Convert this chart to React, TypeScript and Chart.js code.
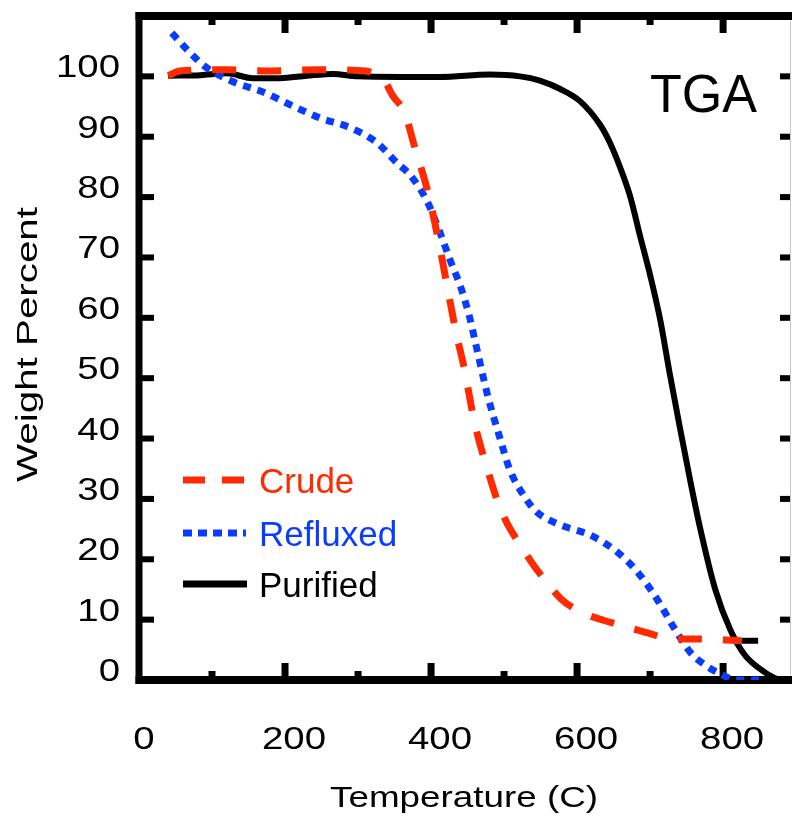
import { useEffect, useRef } from "react";
import { Chart, registerables } from "chart.js";

Chart.register(...registerables);

// ---------- data ----------
const purifiedT = [40, 84, 120, 156, 193, 230, 266, 299, 357, 412, 481, 522, 549, 577, 604, 632, 645, 659, 673, 686, 700, 714, 727, 741, 755, 769, 789, 810, 830, 851, 871, 880];
const purifiedW = [100.1, 100.2, 100.5, 99.7, 99.7, 100.1, 100.4, 100.0, 99.9, 99.9, 100.3, 100.0, 99.3, 97.9, 95.9, 91.9, 89.0, 84.9, 80.0, 73.7, 67.1, 59.6, 50.7, 41.7, 33.0, 24.9, 15.1, 8.3, 4.1, 1.8, 0.3, 0];

const crudeT = [40, 56, 119, 182, 248, 310, 323, 337, 347, 364, 378, 396, 410, 422, 434, 445, 460, 477, 492, 504, 522, 540, 559, 579, 608, 636, 668, 697, 730, 762, 825];
const crudeW = [100.1, 100.9, 101.1, 100.9, 101.1, 100.9, 100.4, 99.1, 96.9, 93.9, 88.1, 80.7, 72.9, 65.3, 57.7, 51.9, 42.4, 35.0, 29.3, 26.0, 22.4, 19.1, 16.1, 13.3, 11.1, 9.9, 8.8, 7.8, 6.8, 6.8, 6.5];

const crudeTailT = [825, 848];
const crudeTailW = [6.5, 6.5];

const refluxedT = [45, 66, 93, 129, 170, 207, 248, 289, 326, 353, 371, 395, 412, 426, 442, 453, 463, 478, 495, 508, 529, 545, 577, 618, 655, 684, 710, 732, 755, 775, 792, 819, 855];
const refluxedW = [107.2, 104.4, 101.4, 99.1, 97.4, 95.3, 93.1, 91.5, 89.0, 85.7, 83.7, 79.2, 74.2, 69.6, 64.6, 60.0, 54.7, 46.9, 39.8, 34.8, 30.2, 27.8, 25.7, 24.0, 21.2, 17.7, 13.3, 8.8, 4.6, 2.5, 1.3, 0, 0];

const xTickLabels = [0, 200, 400, 600, 800];
const xTickMarks = [100, 200, 300, 400, 500, 600, 700, 800];
const yTickLabels = [0, 10, 20, 30, 40, 50, 60, 70, 80, 90, 100];

const seriesNames = ["Crude", "Refluxed", "Purified"];
const xTitle = "Temperature (C)";
const yTitle = "Weight Percent";
const panelTitle = "TGA";

// ---------- style ----------
const RED = "#ff2a00";
const BLUE = "#0a3cff";
const BLACK = "#000000";
const FONT = '"Liberation Sans", Arial, Helvetica, sans-serif';

const pts = (t: number[], w: number[]) => t.map((v, i) => ({ x: v, y: w[i] }));

function drawFit(
  ctx: CanvasRenderingContext2D,
  text: string,
  x: number,
  y: number,
  size: number,
  sx: number,
  align: CanvasTextAlign,
  color: string,
  rotate = false
) {
  ctx.save();
  ctx.font = `${size}px ${FONT}`;
  ctx.fillStyle = color;
  ctx.textAlign = align;
  ctx.textBaseline = "alphabetic";
  ctx.translate(x, y);
  if (rotate) ctx.rotate(-Math.PI / 2);
  ctx.scale(sx, 1);
  ctx.fillText(text, 0, 0);
  ctx.restore();
}

function fitScale(ctx: CanvasRenderingContext2D, text: string, size: number, target: number) {
  ctx.save();
  ctx.font = `${size}px ${FONT}`;
  const w = ctx.measureText(text).width;
  ctx.restore();
  return target / w;
}

const decor = {
  id: "decor",
  beforeDatasetsDraw(chart: any) {
    const { ctx, chartArea: a, scales } = chart;
    const xs = scales.x;
    const ys = scales.y;
    ctx.save();
    ctx.fillStyle = BLACK;
    // frame: left, top, bottom
    ctx.fillRect(a.left - 3.5, a.top - 4, 7, a.bottom - a.top + 8);
    ctx.fillRect(a.left - 3.5, a.top - 4, chart.width, 8);
    ctx.fillRect(a.left - 3.5, a.bottom - 4, chart.width, 8);
    // x ticks (bottom & top, inward)
    for (const v of xTickMarks) {
      const px = xs.getPixelForValue(v);
      const len = v % 200 === 0 ? 17 : 9;
      ctx.fillRect(px - 3.5, a.bottom - len, 7, len);
      ctx.fillRect(px - 3.5, a.top, 7, len);
    }
    // y ticks (left & right, inward)
    for (const v of yTickLabels) {
      if (v === 0) continue;
      const py = ys.getPixelForValue(v);
      ctx.fillRect(a.left, py - 3, 15, 6);
      ctx.fillRect(a.right - 11, py - 3, 11, 6);
    }
    // thin right edge
    ctx.fillStyle = "#c8c8c8";
    ctx.fillRect(a.right - 1, a.top + 4, 1, a.bottom - a.top - 8);
    ctx.restore();
  },
  afterDraw(chart: any) {
    const { ctx, scales } = chart;
    const xs = scales.x;
    const ys = scales.y;
    // tick labels
    const sx = 1.2;
    for (const v of yTickLabels) {
      const py = ys.getPixelForValue(v);
      drawFit(ctx, String(v), 120, py + 1, 32, sx, "right", BLACK);
    }
    for (const v of xTickLabels) {
      const px = xs.getPixelForValue(v);
      drawFit(ctx, String(v), px + (v === 0 ? 5 : 9), 749, 32, sx, "center", BLACK);
    }
    // axis titles
    drawFit(ctx, xTitle, 464, 807, 30, fitScale(ctx, xTitle, 30, 268), "center", BLACK);
    drawFit(ctx, yTitle, 37, 344.5, 30, fitScale(ctx, yTitle, 30, 275), "center", BLACK, true);
    // panel title
    drawFit(ctx, panelTitle, 650, 112, 53, fitScale(ctx, panelTitle, 53, 107), "left", BLACK);

    // legend
    const rows = [
      { name: seriesNames[0], color: RED, dash: [22, 17], width: 7, y: 480, x2: 245 },
      { name: seriesNames[1], color: BLUE, dash: [9, 6], width: 7, y: 533, x2: 246 },
      { name: seriesNames[2], color: BLACK, dash: [], width: 7, y: 584, x2: 247 },
    ];
    ctx.save();
    for (const r of rows) {
      ctx.beginPath();
      ctx.strokeStyle = r.color;
      ctx.lineWidth = r.width;
      ctx.lineCap = "butt";
      ctx.setLineDash(r.dash);
      ctx.moveTo(183, r.y);
      ctx.lineTo(r.x2, r.y);
      ctx.stroke();
      ctx.setLineDash([]);
      drawFit(ctx, r.name, 259, r.y + 12.5, 35, 1, "left", r.color);
    }
    ctx.restore();
  },
};

export default function App() {
  const ref = useRef<HTMLCanvasElement | null>(null);

  useEffect(() => {
    if (!ref.current) return;
    const chart = new Chart(ref.current, {
      type: "line",
      data: {
        datasets: [
          {
            label: seriesNames[0],
            data: pts(crudeT, crudeW),
            borderColor: RED,
            borderWidth: 7,
            borderDash: [24, 21],
            borderCapStyle: "butt",
            pointRadius: 0,
            cubicInterpolationMode: "monotone",
          },
          {
            label: "tail",
            data: pts(crudeTailT, crudeTailW),
            borderColor: BLACK,
            borderWidth: 6,
            pointRadius: 0,
          },
          {
            label: seriesNames[1],
            data: pts(refluxedT, refluxedW),
            borderColor: BLUE,
            borderWidth: 7,
            borderDash: [8, 7],
            borderCapStyle: "butt",
            pointRadius: 0,
            cubicInterpolationMode: "monotone",
          },
          {
            label: seriesNames[2],
            data: pts(purifiedT, purifiedW),
            borderColor: BLACK,
            borderWidth: 6,
            pointRadius: 0,
            cubicInterpolationMode: "monotone",
          },
        ],
      },
      options: {
        animation: false,
        responsive: false,
        devicePixelRatio: 1,
        layout: { padding: { left: 139, top: 16, right: 1, bottom: 144 } },
        scales: {
          x: { type: "linear", min: 0, max: 893, display: false },
          y: { type: "linear", min: 0, max: 110, display: false },
        },
        plugins: {
          legend: { display: false },
          tooltip: { enabled: false },
        },
        events: [],
      },
      plugins: [decor],
    } as any);
    return () => chart.destroy();
  }, []);

  return (
    <div style={{ position: "absolute", left: 0, top: 0, width: 792, height: 824, background: "#fff" }}>
      <canvas ref={ref} width={792} height={824} style={{ display: "block", width: 792, height: 824 }} />
    </div>
  );
}
